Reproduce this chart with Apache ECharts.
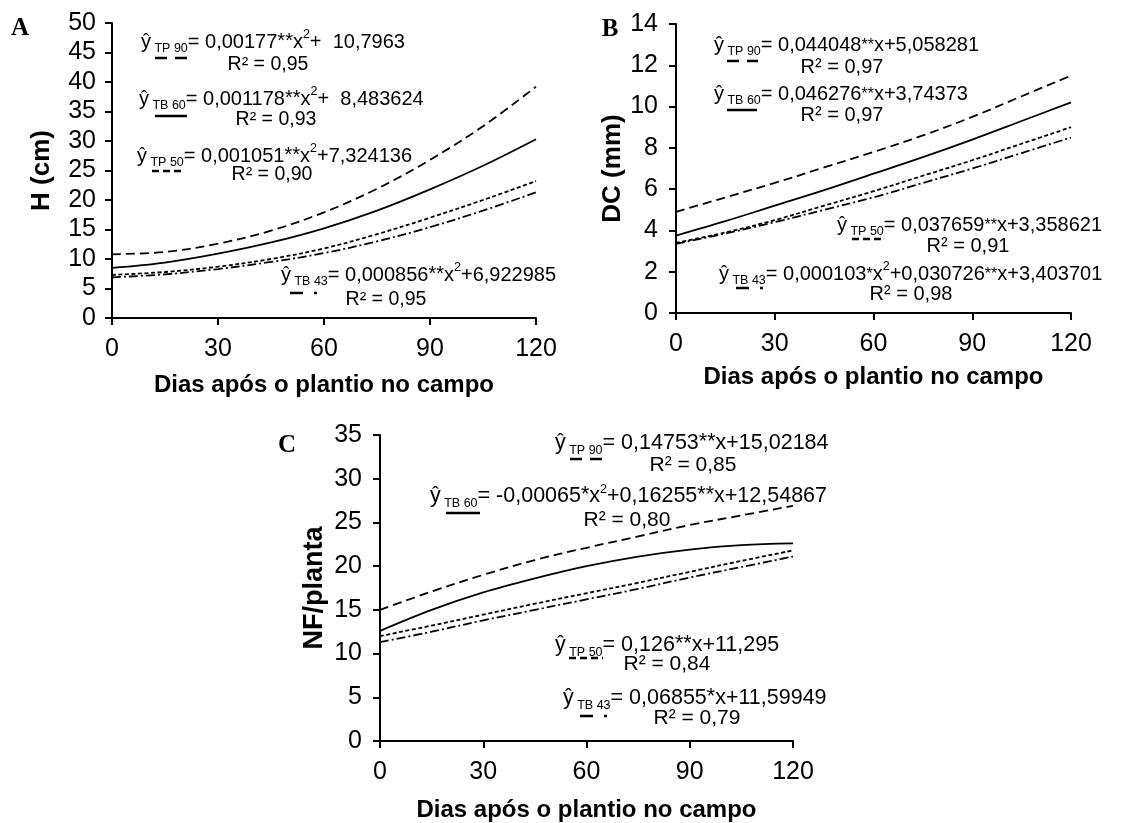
<!DOCTYPE html>
<html>
<head>
<meta charset="utf-8">
<script src="https://cdn.jsdelivr.net/npm/echarts@6/dist/echarts.min.js"></script>
<style>
html,body{margin:0;padding:0;background:#fff;}
#chart{width:1133px;height:823px;}
</style>
</head>
<body>
<div id="chart"></div>
<script>
// ---- data ----
const days = [0, 15, 30, 45, 60, 75, 90, 105, 120];
const xTickLabels = ['0', '30', '60', '90', '120'];

// Panel A: H (cm)
const hTP90 = [10.8, 11.2, 12.6, 14.8, 17.9, 21.9, 26.8, 32.5, 39.2];
const hTB60 = [8.5, 9.4, 10.9, 12.8, 15.2, 18.2, 21.8, 25.8, 30.3];
const hTP50 = [7.3, 7.8, 8.7, 10.0, 11.8, 14.2, 17.0, 20.0, 23.2];
const hTB43 = [6.9, 7.4, 8.3, 9.5, 11.0, 13.0, 15.4, 18.2, 21.3];

// Panel B: DC (mm)
const dTP90 = [4.9, 5.6, 6.3, 7.05, 7.8, 8.6, 9.5, 10.5, 11.5];
const dTB60 = [3.75, 4.45, 5.2, 5.95, 6.75, 7.55, 8.4, 9.3, 10.2];
const dTP50 = [3.4, 3.9, 4.5, 5.2, 5.9, 6.65, 7.4, 8.2, 9.0];
const dTB43 = [3.35, 3.85, 4.4, 5.0, 5.6, 6.3, 7.0, 7.75, 8.5];

// Panel C: NF/planta
const nTP90 = [15.0, 17.1, 19.0, 20.7, 22.1, 23.4, 24.7, 25.8, 26.9];
const nTB60 = [12.6, 15.0, 17.0, 18.6, 20.0, 21.1, 21.9, 22.4, 22.6];
const nTP50 = [12.0, 13.2, 14.45, 15.7, 16.9, 18.1, 19.35, 20.6, 21.8];
const nTB43 = [11.3, 12.5, 13.8, 15.0, 16.2, 17.4, 18.7, 19.9, 21.1];

// ---- styles ----
const SANS = '"Liberation Sans", Arial, sans-serif';
const SERIF = '"Liberation Serif", "Times New Roman", serif';
const STY = {
  TP90: {type: [9, 5], width: 1.8},
  TB60: {type: 'solid', width: 1.8},
  TP50: {type: [4, 2.5], width: 1.8},
  TB43: {type: [9, 3, 2, 3], width: 1.8}
};

function pairs(vals){ return days.map((d,i)=>[d, vals[i]]); }

const grids = [
  {left: 112, top: 23, width: 424, height: 295},
  {left: 676, top: 24, width: 395, height: 289},
  {left: 380, top: 435, width: 413, height: 308}
];
const yCfg = [
  {max: 50, interval: 5, name: 'H (cm)', gap: 57, fs: 26, margin: 16},
  {max: 14, interval: 2, name: 'DC (mm)', gap: 48, fs: 26, margin: 18},
  {max: 35, interval: 5, name: 'NF/planta', gap: 52, fs: 27, margin: 18}
];
const xGap = [55, 52, 57];

const axisLine = {show: true, lineStyle: {color: '#000', width: 2}};
const axisTick = {show: true, inside: false, length: 7, lineStyle: {color: '#000', width: 2}};

const xAxes = grids.map((g, i) => ({
  gridIndex: i, type: 'value', min: 0, max: 120, interval: 30,
  axisLine, axisTick, splitLine: {show: false},
  axisLabel: {color: '#000', fontFamily: SANS, fontSize: 25, margin: 19,
    formatter: v => xTickLabels[Math.round(v / 30)]},
  name: 'Dias após o plantio no campo', nameLocation: 'middle', nameGap: xGap[i],
  nameTextStyle: {color: '#000', fontFamily: SANS, fontSize: 24, fontWeight: 'bold'}
}));
const yAxes = yCfg.map((c, i) => ({
  gridIndex: i, type: 'value', min: 0, max: c.max, interval: c.interval,
  axisLine, axisTick, splitLine: {show: false},
  axisLabel: {color: '#000', fontFamily: SANS, fontSize: 25, margin: c.margin},
  name: c.name, nameLocation: 'middle', nameGap: c.gap, nameRotate: 90,
  nameTextStyle: {color: '#000', fontFamily: SANS, fontSize: c.fs, fontWeight: 'bold'}
}));

function line(idx, vals, key){
  return {
    type: 'line', xAxisIndex: idx, yAxisIndex: idx, data: pairs(vals),
    smooth: 0.35, symbol: 'none', silent: true,
    lineStyle: {color: '#000', width: STY[key].width, type: STY[key].type}
  };
}

const series = [
  line(0, hTP90, 'TP90'), line(0, hTB60, 'TB60'), line(0, hTP50, 'TP50'), line(0, hTB43, 'TB43'),
  line(1, dTP90, 'TP90'), line(1, dTB60, 'TB60'), line(1, dTP50, 'TP50'), line(1, dTB43, 'TB43'),
  line(2, nTP90, 'TP90'), line(2, nTB60, 'TB60'), line(2, nTP50, 'TP50'), line(2, nTB43, 'TB43')
];

// ---- annotations ----
function makeRich(fs, af){
  return {
    h: {fontFamily: SANS, fontSize: fs, fill: '#000', verticalAlign: 'bottom', lineHeight: 24},
    s: {fontFamily: SANS, fontSize: 12.5, fill: '#000', verticalAlign: 'bottom', lineHeight: 24, padding: [0, 0, -3, 0]},
    t: {fontFamily: SANS, fontSize: fs, fill: '#000', verticalAlign: 'bottom', lineHeight: 24},
    a: {fontFamily: SANS, fontSize: fs * af, fill: '#000', verticalAlign: 'bottom', lineHeight: 24, padding: [0, 0, 1, 0]},
    p: {fontFamily: SANS, fontSize: 12.5, fill: '#000', verticalAlign: 'top', lineHeight: 24}
  };
}
// text: ^ marks a superscript char, * runs are asterisks
function eq(x, y, sub, text, fs, af){
  let s = '{h|ŷ}{s| ' + sub + '}';
  const toks = text.match(/\^.|\*+|[^*^]+/g);
  toks.forEach(tk => {
    if (tk[0] === '^') s += '{p|' + tk.slice(1) + '}';
    else if (tk[0] === '*') s += '{a|' + tk + '}';
    else s += '{t|' + tk + '}';
  });
  return {type: 'text', x: x, y: y, silent: true,
    style: {text: s, rich: makeRich(fs, af), textVerticalAlign: 'middle', textAlign: 'left'}};
}
function r2(cx, cy, txt, fs){
  return {type: 'text', x: cx, y: cy, silent: true,
    style: {text: txt, font: fs + 'px ' + SANS, fill: '#000', textAlign: 'center', textVerticalAlign: 'middle'}};
}
function sample(x1, x2, y, key){
  const dash = {TP90: [12, 8], TB60: null, TP50: [7, 4], TB43: [13, 11, 3, 40]}[key];
  return {type: 'line', silent: true, shape: {x1: x1, y1: y, x2: x2, y2: y},
    style: {stroke: '#000', lineWidth: 2.5, lineDash: dash}};
}
function letter(x, y, t){
  return {type: 'text', x: x, y: y, silent: true,
    style: {text: t, font: 'bold 25px ' + SERIF, fill: '#000', textAlign: 'center', textVerticalAlign: 'middle'}};
}

const graphic = [
  letter(20, 29, 'A'), letter(610, 30, 'B'), letter(287, 446, 'C'),
  // Panel A
  eq(141, 40, 'TP 90', '= 0,00177**x^2+  10,7963', 20, 1), r2(268, 65, 'R² = 0,95', 19.5), sample(155, 187, 58, 'TP90'),
  eq(139, 97, 'TB 60', '= 0,001178**x^2+  8,483624', 20, 1), r2(276, 120, 'R² = 0,93', 19.5), sample(155, 187, 116, 'TB60'),
  eq(137, 154, 'TP 50', '= 0,001051**x^2+7,324136', 20, 1), r2(272, 175, 'R² = 0,90', 19.5), sample(152, 182, 171, 'TP50'),
  eq(281, 273, 'TB 43', '= 0,000856**x^2+6,922985', 20, 1), r2(386, 300, 'R² = 0,95', 19.5), sample(290, 320, 293, 'TB43'),
  // Panel B
  eq(714, 43, 'TP 90', '= 0,044048**x+5,058281', 20, 0.8), r2(842, 67, 'R² = 0,97', 20), sample(727, 758, 61, 'TP90'),
  eq(714, 92, 'TB 60', '= 0,046276**x+3,74373', 20, 0.8), r2(842, 115, 'R² = 0,97', 20), sample(727, 757, 110, 'TB60'),
  eq(837, 223, 'TP 50', '= 0,037659**x+3,358621', 20, 0.8), r2(968, 246, 'R² = 0,91', 20), sample(852, 882, 239, 'TP50'),
  eq(719, 272, 'TB 43', '= 0,000103*x^2+0,030726**x+3,403701', 20, 0.8), r2(911, 294, 'R² = 0,98', 20), sample(736, 764, 288, 'TB43'),
  // Panel C
  eq(555, 442, 'TP 90', '= 0,14753**x+15,02184', 21.5, 1), r2(693, 465, 'R² = 0,85', 21), sample(570, 605, 459, 'TP90'),
  eq(430, 495, 'TB 60', '= -0,00065*x^2+0,16255**x+12,54867', 21.5, 1), r2(627, 520, 'R² = 0,80', 21), sample(446, 480, 513, 'TB60'),
  eq(555, 644, 'TP 50', '= 0,126**x+11,295', 21.5, 1), r2(667, 664, 'R² = 0,84', 21), sample(569, 603, 658, 'TP50'),
  eq(563, 697, 'TB 43', '= 0,06855*x+11,59949', 21.5, 1), r2(697, 718, 'R² = 0,79', 21), sample(580, 612, 716, 'TB43')
];

const chart = echarts.init(document.getElementById('chart'), null, {renderer: 'canvas'});
chart.setOption({
  animation: false,
  backgroundColor: '#fff',
  grid: grids.map(g => Object.assign({containLabel: false}, g)),
  xAxis: xAxes,
  yAxis: yAxes,
  series: series,
  graphic: graphic
});
</script>
</body>
</html>
